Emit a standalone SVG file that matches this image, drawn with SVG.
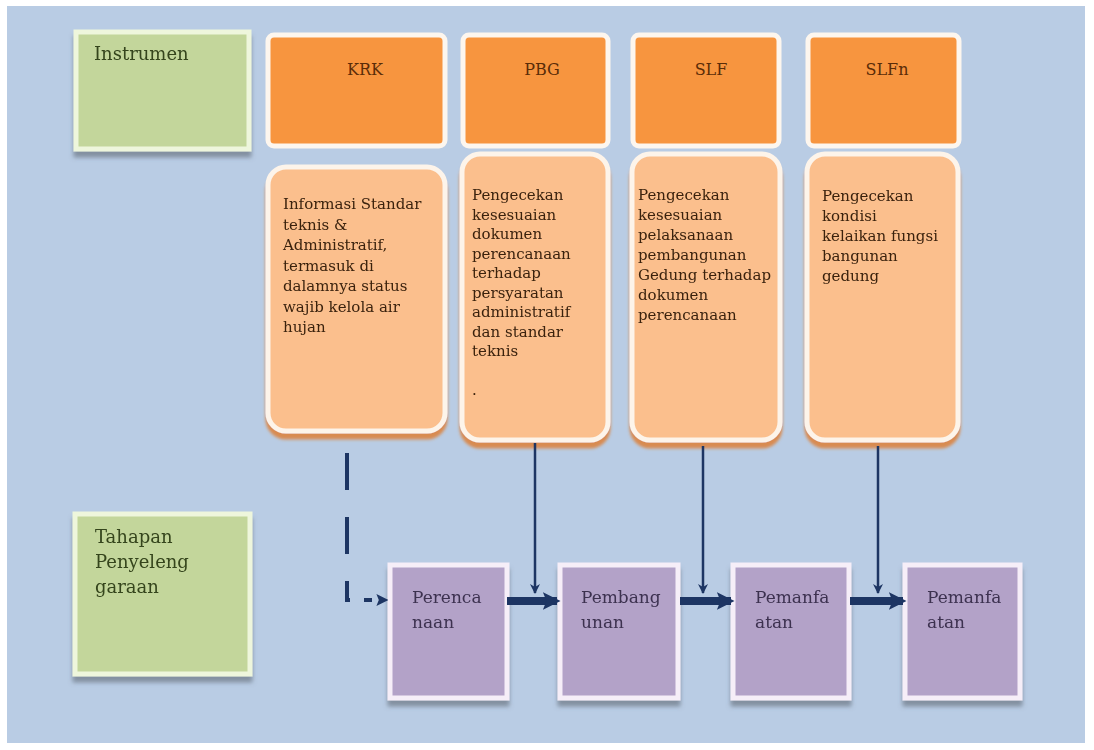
<svg xmlns="http://www.w3.org/2000/svg" width="1094" height="750" viewBox="0 0 1094 750">
<defs>
<style>
.bg{fill:#b9cce4}
.green{fill:#c3d69b;stroke:#eef6dc;stroke-width:5}
.top{fill:#f7953f;stroke:#fdf6ee;stroke-width:5}
.desc{fill:#fbbf8d;stroke:#fdf4ea;stroke-width:5}
.purple{fill:#b3a2c8;stroke:#f6eef8;stroke-width:5}
.t{font-family:"DejaVu Serif","Liberation Serif",serif}
.lbl{font-size:16px;fill:#5a2c08;text-anchor:middle}
.dt{font-size:15px;fill:#3a220e}
.gt{font-size:18px;fill:#34441c}
.pt{font-size:17px;fill:#3c3150}
.conn{stroke:#1d3563;fill:none}
</style>
<filter id="sh" x="-10%" y="-10%" width="130%" height="130%">
<feDropShadow dx="0" dy="6" stdDeviation="2" flood-color="#55606a" flood-opacity="0.55"/>
</filter>
<filter id="sho" x="-10%" y="-10%" width="130%" height="130%">
<feDropShadow dx="0" dy="6" stdDeviation="1.5" flood-color="#e07a2a" flood-opacity="0.8"/>
</filter>
<marker id="ahs" viewBox="0 0 10 10" refX="9" refY="5" markerWidth="4" markerHeight="5" orient="auto" markerUnits="strokeWidth">
<path d="M0,0 L10,5 L0,10 L3,5 Z" fill="#1d3563"/>
</marker>
<marker id="ahb" viewBox="0 0 10 10" refX="8" refY="5" markerWidth="2.2" markerHeight="3.2" orient="auto" markerUnits="strokeWidth">
<path d="M0,0 L10,5 L0,10 L2,5 Z" fill="#1d3563"/>
</marker>
<marker id="ahd" viewBox="0 0 10 10" refX="8" refY="5" markerWidth="3" markerHeight="4.5" orient="auto" markerUnits="strokeWidth">
<path d="M0,0 L10,5 L0,10 L2,5 Z" fill="#1d3563"/>
</marker>
</defs>
<rect x="0" y="0" width="1094" height="750" fill="#ffffff"/>
<rect class="bg" x="7" y="6" width="1078" height="737"/>

<g id="instrumen" filter="url(#sh)">
<rect class="green" x="76" y="32" width="173" height="117"/>
<text class="t gt" x="94" y="60">Instrumen</text>
</g>
<g id="tahapan" filter="url(#sh)">
<rect class="green" x="75" y="514" width="175" height="160"/>
<text class="t gt" x="95" y="543">Tahapan</text>
<text class="t gt" x="95" y="568">Penyeleng</text>
<text class="t gt" x="95" y="593">garaan</text>
</g>

<g id="krk">
<rect class="top" x="268" y="35" width="177" height="111" rx="6"/>
<text class="t lbl" x="365" y="75">KRK</text>
</g>
<g id="pbg">
<rect class="top" x="463" y="35" width="145" height="111" rx="6"/>
<text class="t lbl" x="542" y="75">PBG</text>
</g>
<g id="slf">
<rect class="top" x="633" y="35" width="146" height="111" rx="6"/>
<text class="t lbl" x="711" y="75">SLF</text>
</g>
<g id="slfn">
<rect class="top" x="808" y="35" width="151" height="111" rx="6"/>
<text class="t lbl" x="887" y="75">SLFn</text>
</g>

<g id="krk-desc" filter="url(#sho)">
<rect class="desc" x="268" y="167" width="177" height="264" rx="18"/>
<text class="t dt" x="283" y="209">Informasi Standar</text>
<text class="t dt" x="283" y="229.5">teknis &amp;</text>
<text class="t dt" x="283" y="250">Administratif,</text>
<text class="t dt" x="283" y="270.5">termasuk di</text>
<text class="t dt" x="283" y="291">dalamnya status</text>
<text class="t dt" x="283" y="311.5">wajib kelola air</text>
<text class="t dt" x="283" y="332">hujan</text>
</g>
<g id="pbg-desc" filter="url(#sho)">
<rect class="desc" x="462" y="154" width="146" height="286" rx="18"/>
<text class="t dt" x="472" y="200">Pengecekan</text>
<text class="t dt" x="472" y="219.5">kesesuaian</text>
<text class="t dt" x="472" y="239">dokumen</text>
<text class="t dt" x="472" y="258.5">perencanaan</text>
<text class="t dt" x="472" y="278">terhadap</text>
<text class="t dt" x="472" y="297.5">persyaratan</text>
<text class="t dt" x="472" y="317">administratif</text>
<text class="t dt" x="472" y="336.5">dan standar</text>
<text class="t dt" x="472" y="356">teknis</text>
<text class="t dt" x="472" y="395">.</text>
</g>
<g id="slf-desc" filter="url(#sho)">
<rect class="desc" x="632" y="154" width="148" height="286" rx="18"/>
<text class="t dt" x="638" y="200">Pengecekan</text>
<text class="t dt" x="638" y="220">kesesuaian</text>
<text class="t dt" x="638" y="240">pelaksanaan</text>
<text class="t dt" x="638" y="260">pembangunan</text>
<text class="t dt" x="638" y="280">Gedung terhadap</text>
<text class="t dt" x="638" y="300">dokumen</text>
<text class="t dt" x="638" y="320">perencanaan</text>
</g>
<g id="slfn-desc" filter="url(#sho)">
<rect class="desc" x="807" y="154" width="151" height="286" rx="18"/>
<text class="t dt" x="822" y="201">Pengecekan</text>
<text class="t dt" x="822" y="221">kondisi</text>
<text class="t dt" x="822" y="241">kelaikan fungsi</text>
<text class="t dt" x="822" y="261">bangunan</text>
<text class="t dt" x="822" y="281">gedung</text>
</g>

<g id="perencanaan" filter="url(#sh)">
<rect class="purple" x="390" y="565" width="117" height="133"/>
<text class="t pt" x="412" y="603">Perenca</text>
<text class="t pt" x="412" y="628">naan</text>
</g>
<g id="pembangunan" filter="url(#sh)">
<rect class="purple" x="560" y="565" width="118" height="133"/>
<text class="t pt" x="581" y="603">Pembang</text>
<text class="t pt" x="581" y="628">unan</text>
</g>
<g id="pemanfaatan1" filter="url(#sh)">
<rect class="purple" x="733" y="565" width="116" height="133"/>
<text class="t pt" x="755" y="603">Pemanfa</text>
<text class="t pt" x="755" y="628">atan</text>
</g>
<g id="pemanfaatan2" filter="url(#sh)">
<rect class="purple" x="905" y="565" width="115" height="133"/>
<text class="t pt" x="927" y="603">Pemanfa</text>
<text class="t pt" x="927" y="628">atan</text>
</g>

<g id="connectors">
<path class="conn" d="M347,453 V600 H386" stroke-width="4" stroke-dasharray="37,27,37,27,22,14,8" marker-end="url(#ahd)"/>
<path class="conn" d="M535,443 V593" stroke-width="2.5" marker-end="url(#ahs)"/>
<path class="conn" d="M703,446 V593" stroke-width="2.5" marker-end="url(#ahs)"/>
<path class="conn" d="M878,446 V593" stroke-width="2.5" marker-end="url(#ahs)"/>
<path class="conn" d="M507,601 H557" stroke-width="8" marker-end="url(#ahb)"/>
<path class="conn" d="M680,601 H731" stroke-width="8" marker-end="url(#ahb)"/>
<path class="conn" d="M850,601 H903" stroke-width="8" marker-end="url(#ahb)"/>
</g>
</svg>
